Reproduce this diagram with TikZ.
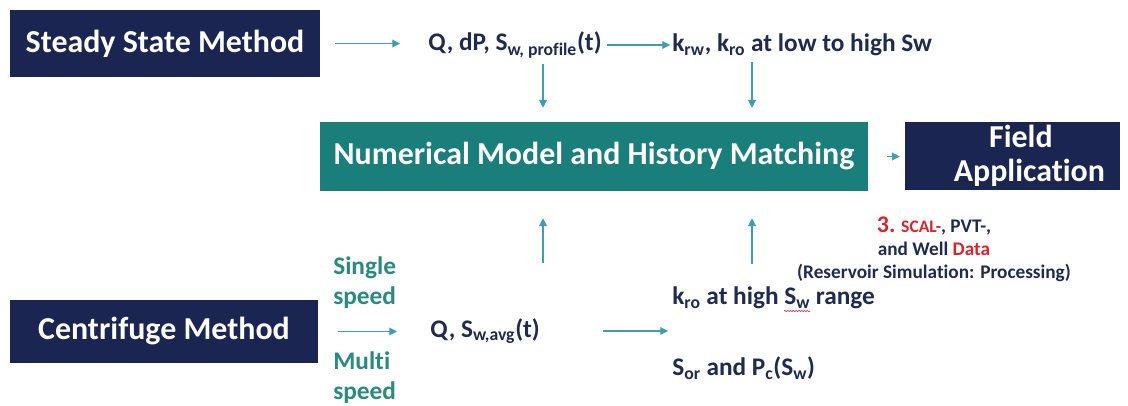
\documentclass[tikz,border=0pt]{standalone}
\usepackage{fontspec}
\setmainfont{Carlito}[Ligatures=NoCommon]
\usetikzlibrary{arrows.meta, positioning, decorations.pathmorphing}

\definecolor{navyblue}{HTML}{1B2551}
\definecolor{boxteal}{HTML}{1A7E7A}
\definecolor{arrowblue}{HTML}{3E9DB3}
\definecolor{inkblue}{HTML}{1F2A50}
\definecolor{alertred}{HTML}{D9232D}
\definecolor{speedteal}{HTML}{2A8A80}

\def\px{0.025cm}

\begin{document}
\begin{tikzpicture}[x=\px, y=-\px, >={Triangle[length=5.5pt, width=5.5pt]},
    methodbox/.style={fill=navyblue, text=white, inner sep=0pt,
        font=\fontsize{22.7}{24}\selectfont\bfseries},
    modelbox/.style={fill=boxteal, text=white, inner sep=0pt,
        font=\fontsize{22.7}{24}\selectfont\bfseries},
    result/.style={text=inkblue, inner sep=0pt, anchor=west,
        font=\fontsize{18}{21}\selectfont\bfseries},
    speed/.style={text=speedteal, inner sep=0pt, anchor=west, align=left,
        font=\fontsize{18}{21.3}\selectfont\bfseries},
    flow/.style={->, arrowblue, line width=0.8pt}]

    % 画布范围与原图一致
    \useasboundingbox (0,0) rectangle (1128,406);

    % 1. 方框
    \node[methodbox, minimum width=310*\px, minimum height=67*\px] (ssm) at (165,43.5) {Steady State Method};
    \node[methodbox, minimum width=308*\px, minimum height=63*\px] (cfm) at (164,331.5) {Centrifuge Method};
    \node[modelbox, minimum width=548*\px, minimum height=69*\px] (nm) at (594,156.5) {Numerical Model and History Matching};
    \node[methodbox, minimum width=215*\px, minimum height=68*\px, align=center] (fa) at (1012.5,156) {\hspace*{12pt}Field\\\hspace*{24pt}Application};

    % 2. 结果文字
    \node[result] (qdp) at (428,45) {Q, dP, S\textsubscript{w, profile}(t)};
    \node[result] (krw) at (672,45) {k\textsubscript{rw}, k\textsubscript{ro} at low to high Sw};
    \node[result] (qsw) at (430,331) {Q, S\textsubscript{w,avg}(t)};
    \node[result] (kro) at (672,298) {k\textsubscript{ro} at high S\textsubscript{w} range};
    \node[result] (sor) at (672,368) {S\textsubscript{or} and P\textsubscript{c}(S\textsubscript{w})};
    \node[speed] (single) at (333,283) {Single\\speed};
    \node[speed] (multi) at (333,378) {Multi\\speed};
    \node[text=inkblue, inner sep=0pt, align=center, font=\fontsize{13.7}{16.4}\selectfont\bfseries] (scal) at (934,249)
        {{\color{alertred}\fontsize{17}{16.4}\selectfont 3.} {\color{alertred}\fontsize{12.5}{16.4}\selectfont SCAL-}, PVT-,\\
         and Well {\color{alertred}Data}\\
         (Reservoir Simulation: Processing)};

    % 拼写检查的红色波浪线
    \draw[alertred, line width=0.4pt, decorate, decoration={snake, amplitude=0.5pt, segment length=2pt}] (784,311) -- (810,311);

    % 3. 竖向箭头所在位置
    \coordinate (xl) at (543,0);
    \coordinate (xr) at (752,0);
    \coordinate (cres) at (670,331);

    % 4. 箭头
    \draw[flow, shorten <=15*\px, shorten >=28*\px] (ssm.east) -- (ssm.east -| qdp.west);
    \draw[flow, shorten <=5*\px, shorten >=2*\px] (qdp.east) -- (krw.west);
    \draw[flow, shorten <=6*\px, shorten >=14*\px] (qdp.south -| xl) -- (nm.north -| xl);
    \draw[flow, shorten <=6*\px, shorten >=14*\px] (krw.south -| xr) -- (nm.north -| xr);
    \draw[flow, shorten <=19*\px, shorten >=5*\px] (nm.east) -- (nm.east -| fa.west);
    \draw[flow, shorten <=20*\px, shorten >=33*\px] (cfm.east) -- (cfm.east -| qsw.west);
    \draw[flow, shorten <=63*\px, shorten >=2*\px] (qsw.east) -- (cres);
    \draw[flow, shorten <=55*\px, shorten >=27*\px] (qsw.north -| xl) -- (nm.south -| xl);
    \draw[flow, shorten <=23*\px, shorten >=27*\px] (kro.north -| xr) -- (nm.south -| xr);

\end{tikzpicture}
\end{document}
